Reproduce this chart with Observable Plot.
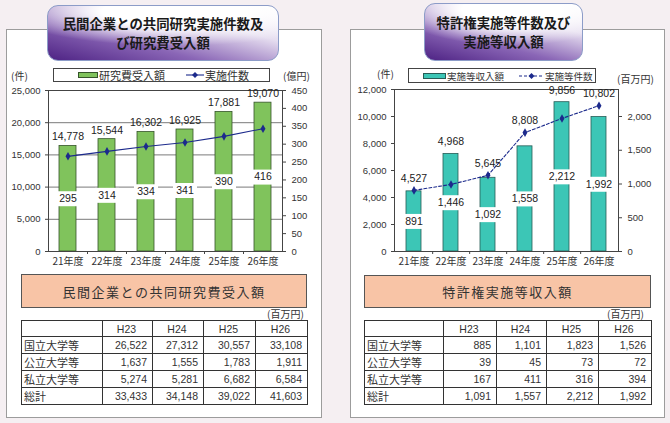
<!DOCTYPE html>
<html><head><meta charset="utf-8">
<script src="https://cdn.jsdelivr.net/npm/d3@7"></script>
<script src="https://cdn.jsdelivr.net/npm/@observablehq/plot@0.6"></script>
<style>
body{margin:0;width:670px;height:423px;background:#f5eff2;position:relative;overflow:hidden;font-family:"Liberation Sans","Noto Sans CJK JP",sans-serif;color:#222}
.panel{position:absolute;background:#fff;border:1px solid #9c9c9c;box-sizing:border-box}
.title{position:absolute;border:1px solid #8c9cc8;border-radius:11px;box-sizing:border-box;
 background:radial-gradient(ellipse 90% 80% at 55% 10%, rgba(255,255,255,1) 35%, rgba(255,255,255,0) 80%),linear-gradient(15deg,#4e2384 0%,#8a66b6 35%,#e6def0 70%,#ffffff 100%);
 font-family:"Noto Sans CJK JP",sans-serif;font-weight:700;font-size:13.4px;line-height:19px;text-align:center;display:flex;align-items:center;justify-content:center;color:#1a1a1a;z-index:3}
.legend{position:absolute;background:#fff;border:1px solid #444;box-sizing:border-box;display:flex;align-items:center;font-family:"Noto Sans CJK JP",sans-serif;color:#333;z-index:3;white-space:nowrap}
.unit{position:absolute;font-family:"Noto Sans CJK JP",sans-serif;font-size:10px;color:#333;z-index:3;white-space:nowrap}
.chart{position:absolute;z-index:2}
.tbox{position:absolute;background:#f8c4a6;border:1px solid #555;box-sizing:border-box;font-family:"Noto Sans CJK JP",sans-serif;font-size:13px;letter-spacing:1.5px;color:#333;display:flex;align-items:center;justify-content:center;z-index:3}
table{position:absolute;border-collapse:collapse;font-size:10.5px;z-index:3;table-layout:fixed}
td,th{border:1px solid #333;height:16.4px;padding:0 5px 0 3px;font-weight:400;color:#333;box-sizing:border-box}
th{text-align:center}
td{text-align:right}
td.lab{text-align:left;font-family:"Noto Sans CJK JP",sans-serif;font-size:11px;padding-left:2px}
</style></head>
<body>
<div class="panel" style="left:6px;top:29px;width:316px;height:389px"></div>
<div class="panel" style="left:350px;top:29px;width:315px;height:389px"></div>
<div class="title" style="left:47px;top:5px;width:232px;height:56px">民間企業との共同研究実施件数及<br>び研究費受入額</div>
<div class="title" style="left:424px;top:3px;width:159px;height:58px">特許権実施等件数及び<br>実施等収入額</div>
<div id="leftLegend" class="legend" style="left:53px;top:68px;width:217px;height:14px;font-size:11px"></div>
<div id="rightLegend" class="legend" style="left:408px;top:68px;width:188px;height:15px;font-size:9.5px"></div>
<div class="unit" style="left:11px;top:68px">(件)</div>
<div class="unit" style="left:283px;top:68px">(億円)</div>
<div class="unit" style="left:377px;top:66px">(件)</div>
<div class="unit" style="left:617px;top:71px">(百万円)</div>
<div id="leftChart" class="chart" style="left:0px;top:62px"></div>
<div id="rightChart" class="chart" style="left:340px;top:62px"></div>
<div class="tbox" style="left:21px;top:274px;width:286px;height:34px">民間企業との共同研究費受入額</div>
<div class="tbox" style="left:364px;top:275px;width:287px;height:33px">特許権実施等収入額</div>
<div class="unit" style="left:267px;top:306px">(百万円)</div>
<div class="unit" style="left:607px;top:306px">(百万円)</div>
<table id="leftTable" style="left:21px;top:320px;width:286px"></table>
<table id="rightTable" style="left:364px;top:320px;width:287px"></table>
<script>
// ---- data ----
const years = ["21年度","22年度","23年度","24年度","25年度","26年度"];
const jointFunding = [295, 314, 334, 341, 390, 416];          // 研究費受入額 (億円)
const jointCount = [14778, 15544, 16302, 16925, 17881, 19070]; // 実施件数 (件)
const patentIncome = [891, 1446, 1092, 1558, 2212, 1992];      // 実施等収入額 (百万円)
const patentCount = [4527, 4968, 5645, 8808, 9856, 10802];     // 実施等件数 (件)

const jointLeftTicks = [0, 5000, 10000, 15000, 20000, 25000];
const jointRightTicks = [0, 50, 100, 150, 200, 250, 300, 350, 400, 450];
const patentLeftTicks = [0, 2000, 4000, 6000, 8000, 10000, 12000];
const patentRightTicks = [0, 500, 1000, 1500, 2000];

const tableCols = ["H23", "H24", "H25", "H26"];
const tableRows = ["国立大学等", "公立大学等", "私立大学等", "総計"];
const jointNational = [26522, 27312, 30557, 33108];
const jointPublic = [1637, 1555, 1783, 1911];
const jointPrivate = [5274, 5281, 6682, 6584];
const jointTotal = [33433, 34148, 39022, 41603];
const patentNational = [885, 1101, 1823, 1526];
const patentPublic = [39, 45, 73, 72];
const patentPrivate = [167, 411, 316, 394];
const patentTotal = [1091, 1557, 2212, 1992];

const fmt = d3.format(",");
const boxSym = (w, h) => ({draw(ctx){ ctx.rect(-w/2, -h/2, w, h); }});

function dualChart(o){
  const data = years.map((y, i) => ({year: y, bar: o.bars[i], count: o.counts[i]}));
  const K = o.leftMax / o.rightMax;
  const step = (o.width - o.mL - o.mR) / years.length;
  return Plot.plot({
    width: o.width, height: o.height, marginLeft: o.mL, marginRight: o.mR, marginTop: o.mT, marginBottom: o.mB,
    style: {background: "transparent", fontFamily: "Liberation Sans, Noto Sans CJK JP, sans-serif", fontSize: "9.5px", color: "#333"},
    x: {type: "band", domain: years, padding: 0, axis: null},
    y: {domain: [0, o.leftMax], axis: null},
    marks: [
      o.grid ? Plot.gridY(o.leftTicks.slice(1), {stroke: "#7a7a7a", strokeOpacity: 1}) : null,
      Plot.barY(data, {x: "year", y: d => d.bar * K, fill: o.barColor, stroke: o.barStroke, strokeWidth: 0.8, insetLeft: o.inset, insetRight: o.inset}),
      Plot.frame({stroke: "#444"}),
      Plot.axisY(o.leftTicks, {anchor: "left", tickSize: 3, tickPadding: 5, tickFormat: fmt, label: null, stroke: "#444"}),
      Plot.axisY(o.rightTicks.map(v => v * K), {anchor: "right", tickSize: 3, tickPadding: 6, tickFormat: d => fmt(Math.round(d / K)), label: null, stroke: "#444"}),
      Plot.axisX({tickSize: 0, tickPadding: 6, label: null, fontSize: 10, fontFamily: "Noto Sans CJK JP, sans-serif"}),
      Plot.axisX(years.slice(0, -1), {tickSize: 3, tickFormat: () => "", dx: step / 2, label: null, stroke: "#444"}),
      Plot.line(data, {x: "year", y: "count", stroke: "#1c2a8c", strokeWidth: 1.1, strokeDasharray: o.dash}),
      Plot.dot(data, {x: "year", y: "count", symbol: "diamond", r: 2.6, fill: "#1c2a8c", stroke: "none"}),
      Plot.dot(data, {x: "year", y: d => d.bar * K / 2, symbol: boxSym(o.boxW, 15), fill: "white", stroke: "none"}),
      Plot.text(data, {x: "year", y: d => d.bar * K / 2, text: d => fmt(d.bar), fontSize: 10.5, fill: "#222"}),
      Plot.text(data, {x: "year", y: d => Math.max(d.count, d.bar * K), dy: o.labelDy, text: d => fmt(d.count), fontSize: 10.5, fill: "#222"})
    ]
  });
}

document.getElementById("leftChart").append(dualChart({
  bars: jointFunding, counts: jointCount, leftMax: 25000, rightMax: 450,
  leftTicks: jointLeftTicks, rightTicks: jointRightTicks,
  width: 322, height: 210, mL: 48, mR: 40, mT: 28, mB: 21, inset: 11, boxW: 24,
  grid: true, barColor: "#80c35c", barStroke: "#35542a", dash: null, labelDy: -9
}));
document.getElementById("rightChart").append(dualChart({
  bars: patentIncome, counts: patentCount, leftMax: 12000, rightMax: 2400,
  leftTicks: patentLeftTicks, rightTicks: patentRightTicks,
  width: 330, height: 210, mL: 54, mR: 52, mT: 27, mB: 21, inset: 11, boxW: 30,
  grid: false, barColor: "#3cc6b6", barStroke: "#275c56", dash: "3,2", labelDy: -12
}));

function legend(el, items){
  el.innerHTML = items.map(it => it.kind === "bar"
    ? `<span style="position:absolute;left:${it.x}px;top:0;height:100%;display:flex;align-items:center"><svg width="${it.w}" height="8"><rect x="0.5" y="1.5" width="${it.w-1}" height="5" fill="${it.color}" stroke="${it.stroke}"/></svg><span style="margin-left:1px">${it.label}</span></span>`
    : `<span style="position:absolute;left:${it.x}px;top:0;height:100%;display:flex;align-items:center"><svg width="${it.w}" height="8"><line x1="0" x2="${it.w}" y1="4" y2="4" stroke="#1c2a8c" stroke-width="1.1" ${it.dash ? `stroke-dasharray="${it.dash}"` : ""}/><path d="M${it.w/2},1 L${it.w/2+3},4 L${it.w/2},7 L${it.w/2-3},4Z" fill="#1c2a8c"/></svg><span style="margin-left:1px">${it.label}</span></span>`
  ).join("");
}
legend(document.getElementById("leftLegend"), [
  {kind: "bar", x: 24, w: 20, color: "#80c35c", stroke: "#35542a", label: "研究費受入額"},
  {kind: "line", x: 132, w: 18, label: "実施件数"}
]);
legend(document.getElementById("rightLegend"), [
  {kind: "bar", x: 14, w: 23, color: "#3cc6b6", stroke: "#275c56", label: "実施等収入額"},
  {kind: "line", x: 110, w: 25, dash: "3,2", label: "実施等件数"}
]);

function table(el, rows, colW){
  let h = `<colgroup>${colW.map(w => `<col style="width:${w}px">`).join("")}</colgroup>`;
  h += `<tr><th></th>${tableCols.map(c => `<th>${c}</th>`).join("")}</tr>`;
  rows.forEach((r, i) => { h += `<tr><td class="lab">${tableRows[i]}</td>${r.map(v => `<td>${fmt(v)}</td>`).join("")}</tr>`; });
  el.innerHTML = h;
}
table(document.getElementById("leftTable"), [jointNational, jointPublic, jointPrivate, jointTotal], [81, 50, 51, 52, 52]);
table(document.getElementById("rightTable"), [patentNational, patentPublic, patentPrivate, patentTotal], [79, 53, 50, 52, 53]);
</script>
</body></html>
